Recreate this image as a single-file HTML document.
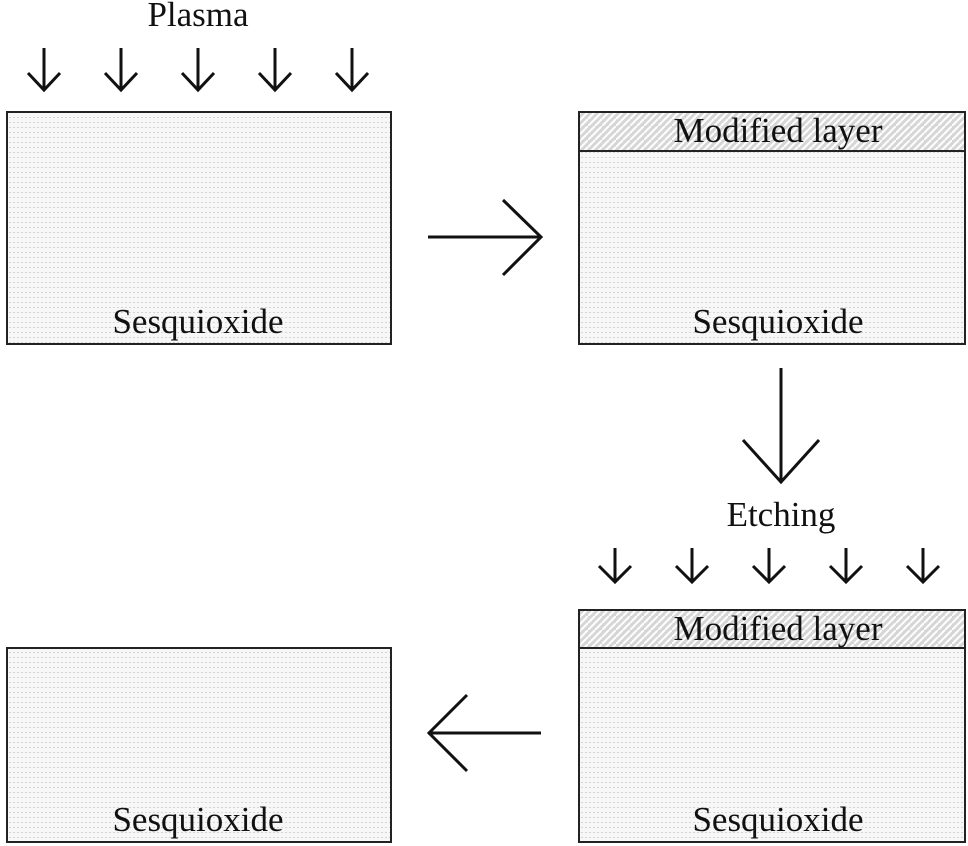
<!DOCTYPE html>
<html><head><style>body{margin:0;background:#fff}svg{display:block}text{font-family:"Liberation Serif",serif;font-size:35px;fill:#111}</style></head><body>
<svg width="968" height="846" viewBox="0 0 968 846">
<defs>
<pattern id="dots" width="4" height="5" patternUnits="userSpaceOnUse"><rect width="4" height="5" fill="#f7f7f7"/><rect x="1" y="2" width="2" height="1" fill="#d4d4d4"/></pattern>
<pattern id="hatch" width="14" height="14" patternUnits="userSpaceOnUse"><rect width="14" height="14" fill="#d6d6d6"/><path d="M0 7L7 0M7 14L14 7M0 14L7 7M7 7L14 0" stroke="#fff" stroke-width="2"/></pattern>
</defs>
<g stroke="#222" stroke-width="2">
<rect x="7" y="112" width="384" height="232" fill="url(#dots)"/>
<rect x="579" y="112" width="386" height="232" fill="url(#dots)"/>
<rect x="579" y="112" width="386" height="39" fill="url(#hatch)"/>
<rect x="579" y="610" width="386" height="232" fill="url(#dots)"/>
<rect x="579" y="610" width="386" height="38" fill="url(#hatch)"/>
<rect x="7" y="648" width="384" height="194" fill="url(#dots)"/>
</g>
<g stroke="#111" stroke-width="3" fill="none">
<path d="M44 48V90M28 73L44 90L60 73M121 48V90M105 73L121 90L137 73M198 48V90M182 73L198 90L214 73M275 48V90M259 73L275 90L291 73M352 48V90M336 73L352 90L368 73"/>
<path d="M615 548V582M599 566L615 582L631 566M692 548V582M676 566L692 582L708 566M769 548V582M753 566L769 582L785 566M846 548V582M830 566L846 582L862 566M923 548V582M907 566L923 582L939 566"/>
<path d="M428 237H541M503 200L541 237L503 275"/>
<path d="M781 368V482M743 440L781 482L819 440"/>
<path d="M428 733H541M467 695L429 733L467 771"/>
</g>
<text x="198" y="26" text-anchor="middle">Plasma</text>
<text x="781" y="526" text-anchor="middle">Etching</text>
<text x="778" y="142" text-anchor="middle">Modified layer</text>
<text x="778" y="640" text-anchor="middle">Modified layer</text>
<text x="198" y="333" text-anchor="middle">Sesquioxide</text>
<text x="778" y="333" text-anchor="middle">Sesquioxide</text>
<text x="778" y="831" text-anchor="middle">Sesquioxide</text>
<text x="198" y="831" text-anchor="middle">Sesquioxide</text>
</svg>
</body></html>
